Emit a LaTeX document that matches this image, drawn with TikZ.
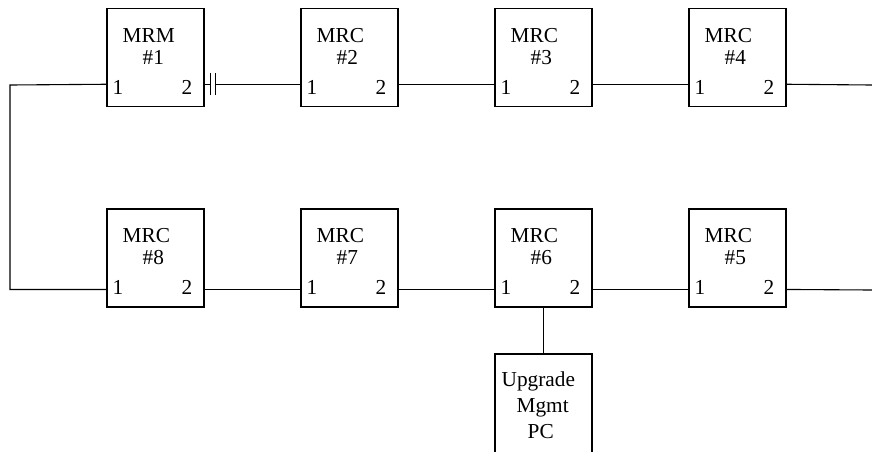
\documentclass[tikz,border=0pt]{standalone}
\usepackage{fontspec}
\setmainfont{Liberation Serif}
\usetikzlibrary{calc}

\tikzset{
  unit/.style={draw,line width=1.1pt,minimum width=97pt,minimum height=98pt,inner sep=0pt},
  wire/.style={line width=1.1pt},
  lbl/.style={inner sep=0pt,anchor=base west,font=\fontsize{21.3}{24}\selectfont},
  pnum/.style={inner sep=0pt,font=\fontsize{21.3}{24}\selectfont}
}

\begin{document}
\begin{tikzpicture}[x=1pt,y=-1pt]
\useasboundingbox (0,0) rectangle (872,451);

% ring of units
\foreach \n/\cx/\cy/\t/\k/\ly in {b1/155.5/57.8/MRM/1/76, b2/349.5/57.8/MRC/2/76,
    b3/543.5/57.8/MRC/3/76, b4/737.5/57.8/MRC/4/76,
    b5/737.5/258/MRC/5/81, b6/543.5/258/MRC/6/81,
    b7/349.5/258/MRC/7/81, b8/155.5/258/MRC/8/81}{
  \node[unit] (\n) at (\cx,\cy) {};
  \node[lbl] (\n-t) at ($(\n.north west)+(16,34)$) {\t};
  \node[lbl] (\n-k) at ($(\n.north west)+(36,56)$) {\#\k};
  \node[pnum,anchor=base west] (\n-a) at ($(\n.north west)+(6,86)$) {1};
  \node[pnum,anchor=base east] (\n-b) at ($(\n.north east)+(-12,86)$) {2};
  \coordinate (\n-l) at ($(\n.north west)+(0,\ly)$);
  \coordinate (\n-r) at ($(\n.north east)+(0,\ly)$);
}

% management PC
\node[unit,minimum height=120pt] (pc) at (543.5,414) {};
\node[lbl] (pc-1) at ($(pc.north west)+(7,33)$) {Upgrade};
\node[lbl] (pc-2) at ($(pc.north west)+(22,59)$) {Mgmt};
\node[lbl] (pc-3) at ($(pc.north west)+(33,85)$) {PC};

% capacitor between #1 and #2
\coordinate (cap-a) at ($(b1-r)+(5.5,0)$);
\coordinate (cap-b) at ($(b1-r)+(10.5,0)$);
\draw[wire] (b1-r) -- (cap-a);
\draw[wire] ($(cap-a)+(0,-11)$) -- ($(cap-a)+(0,11)$);
\draw[wire] ($(cap-b)+(0,-11)$) -- ($(cap-b)+(0,11)$);
\draw[wire] (cap-b) -- (b2-l);

\coordinate (end1) at (872,85);
\coordinate (end2) at (872,290);
\coordinate (loop) at (10,85);

\draw[wire] (b2-r) -- (b3-l);
\draw[wire] (b3-r) -- (b4-l);
\draw[wire] (b4-r) -- (end1);
\draw[wire] (b8-r) -- (b7-l);
\draw[wire] (b7-r) -- (b6-l);
\draw[wire] (b6-r) -- (b5-l);
\draw[wire] (b5-r) -- (end2);
\draw[wire] (b1-l) -- (loop) |- (b8-l);
\draw[wire] (b6.south) -- (pc.north);
\end{tikzpicture}
\end{document}
